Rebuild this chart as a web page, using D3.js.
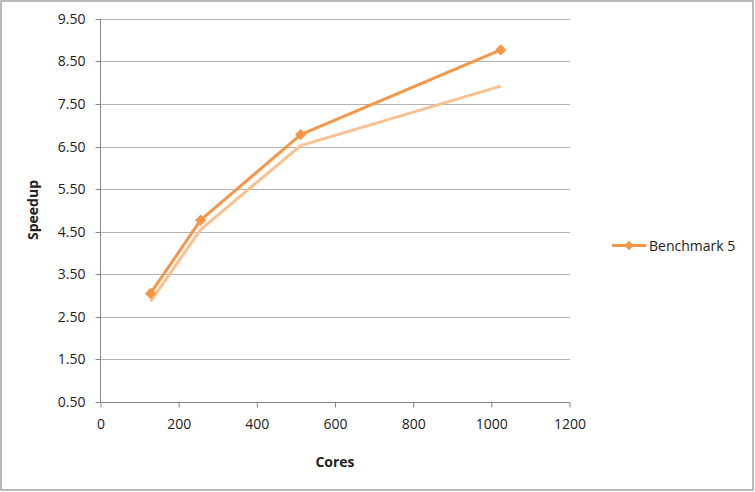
<!DOCTYPE html>
<html><head><meta charset="utf-8">
<script src="https://cdn.jsdelivr.net/npm/d3@7"></script>
<style>body{margin:0;background:#fff}svg{display:block}text{font-family:"Open Sans",sans-serif;fill:#222}</style>
</head><body><svg id="c" width="755" height="492"></svg>
<script>
const cores = [128, 256, 512, 1024];
const benchmark5 = [3.05, 4.77, 6.78, 8.77];
const secondSeries = [2.86, 4.55, 6.52, 7.92];
const yTicks = [0.5, 1.5, 2.5, 3.5, 4.5, 5.5, 6.5, 7.5, 8.5, 9.5];
const xTicks = [0, 200, 400, 600, 800, 1000, 1200];
const seriesName = "Benchmark 5";

const svg = d3.select("#c");
svg.append("rect").attr("x",1).attr("y",1).attr("width",752).attr("height",489)
  .attr("fill","#fff").attr("stroke","#8c8c8c").attr("stroke-width",1.2);

const x = d3.scaleLinear().domain([0,1200]).range([100.5,569.5]);
const y = d3.scaleLinear().domain([0.5,9.5]).range([402,18.8]);

// gridlines
svg.append("g").selectAll("line").data(yTicks.slice(1)).join("line")
  .attr("x1",100).attr("x2",570).attr("y1",d=>Math.round(y(d))+0.5).attr("y2",d=>Math.round(y(d))+0.5)
  .attr("stroke","#b3b3b3").attr("stroke-width",1);

const yAxis = svg.append("g").attr("transform","translate(100.5,0)")
  .call(d3.axisLeft(y).tickValues(yTicks).tickFormat(d3.format(".2f")).tickSize(5).tickPadding(10));
yAxis.select(".domain").remove();
yAxis.selectAll(".tick line").attr("stroke","#868686");
yAxis.selectAll(".tick").attr("transform",d=>`translate(0,${Math.round(y(d))+0.5})`);
svg.append("line").attr("x1",100.5).attr("x2",100.5).attr("y1",y(9.5)).attr("y2",402.5).attr("stroke","#868686");

const xAxis = svg.append("g").attr("transform","translate(0,402.5)")
  .call(d3.axisBottom(x).tickValues(xTicks).tickFormat(d3.format("d")).tickSize(5).tickPadding(12));
xAxis.select(".domain").attr("stroke","#868686").attr("d","M100,0H570");
xAxis.selectAll(".tick line").attr("stroke","#868686");
svg.selectAll(".tick text").style("font-size","14px").style("font-family","'Open Sans',sans-serif").attr("fill","#222");

const line = d3.line().x((d,i)=>x(cores[i])).y(d=>y(d));
svg.append("path").datum(secondSeries).attr("d",line).attr("fill","none")
  .attr("stroke","#fac090").attr("stroke-width",3).attr("stroke-linejoin","round");
svg.append("path").datum(benchmark5).attr("d",line).attr("fill","none")
  .attr("stroke","#f79646").attr("stroke-width",3).attr("stroke-linejoin","round");
const diamond = d3.symbol().type(d3.symbolDiamond2).size(80);
svg.append("g").selectAll("path").data(benchmark5).join("path")
  .attr("transform",(d,i)=>`translate(${x(cores[i])},${y(d)})`)
  .attr("d",diamond).attr("fill","#f79646");

// legend
svg.append("line").attr("x1",612).attr("x2",646).attr("y1",245.5).attr("y2",245.5)
  .attr("stroke","#f79646").attr("stroke-width",3);
svg.append("path").attr("transform","translate(629,245.5)").attr("d",d3.symbol().type(d3.symbolDiamond2).size(60)).attr("fill","#f79646");
svg.append("text").attr("x",649).attr("y",250.5).style("font-size","14px").text(seriesName);

// axis titles
svg.append("text").attr("transform","translate(38,210) rotate(-90)").attr("text-anchor","middle")
  .style("font-size","14px").style("font-weight","bold").text("Speedup");
svg.append("text").attr("x",335).attr("y",467).attr("text-anchor","middle")
  .style("font-size","14px").style("font-weight","bold").text("Cores");
</script></body></html>
